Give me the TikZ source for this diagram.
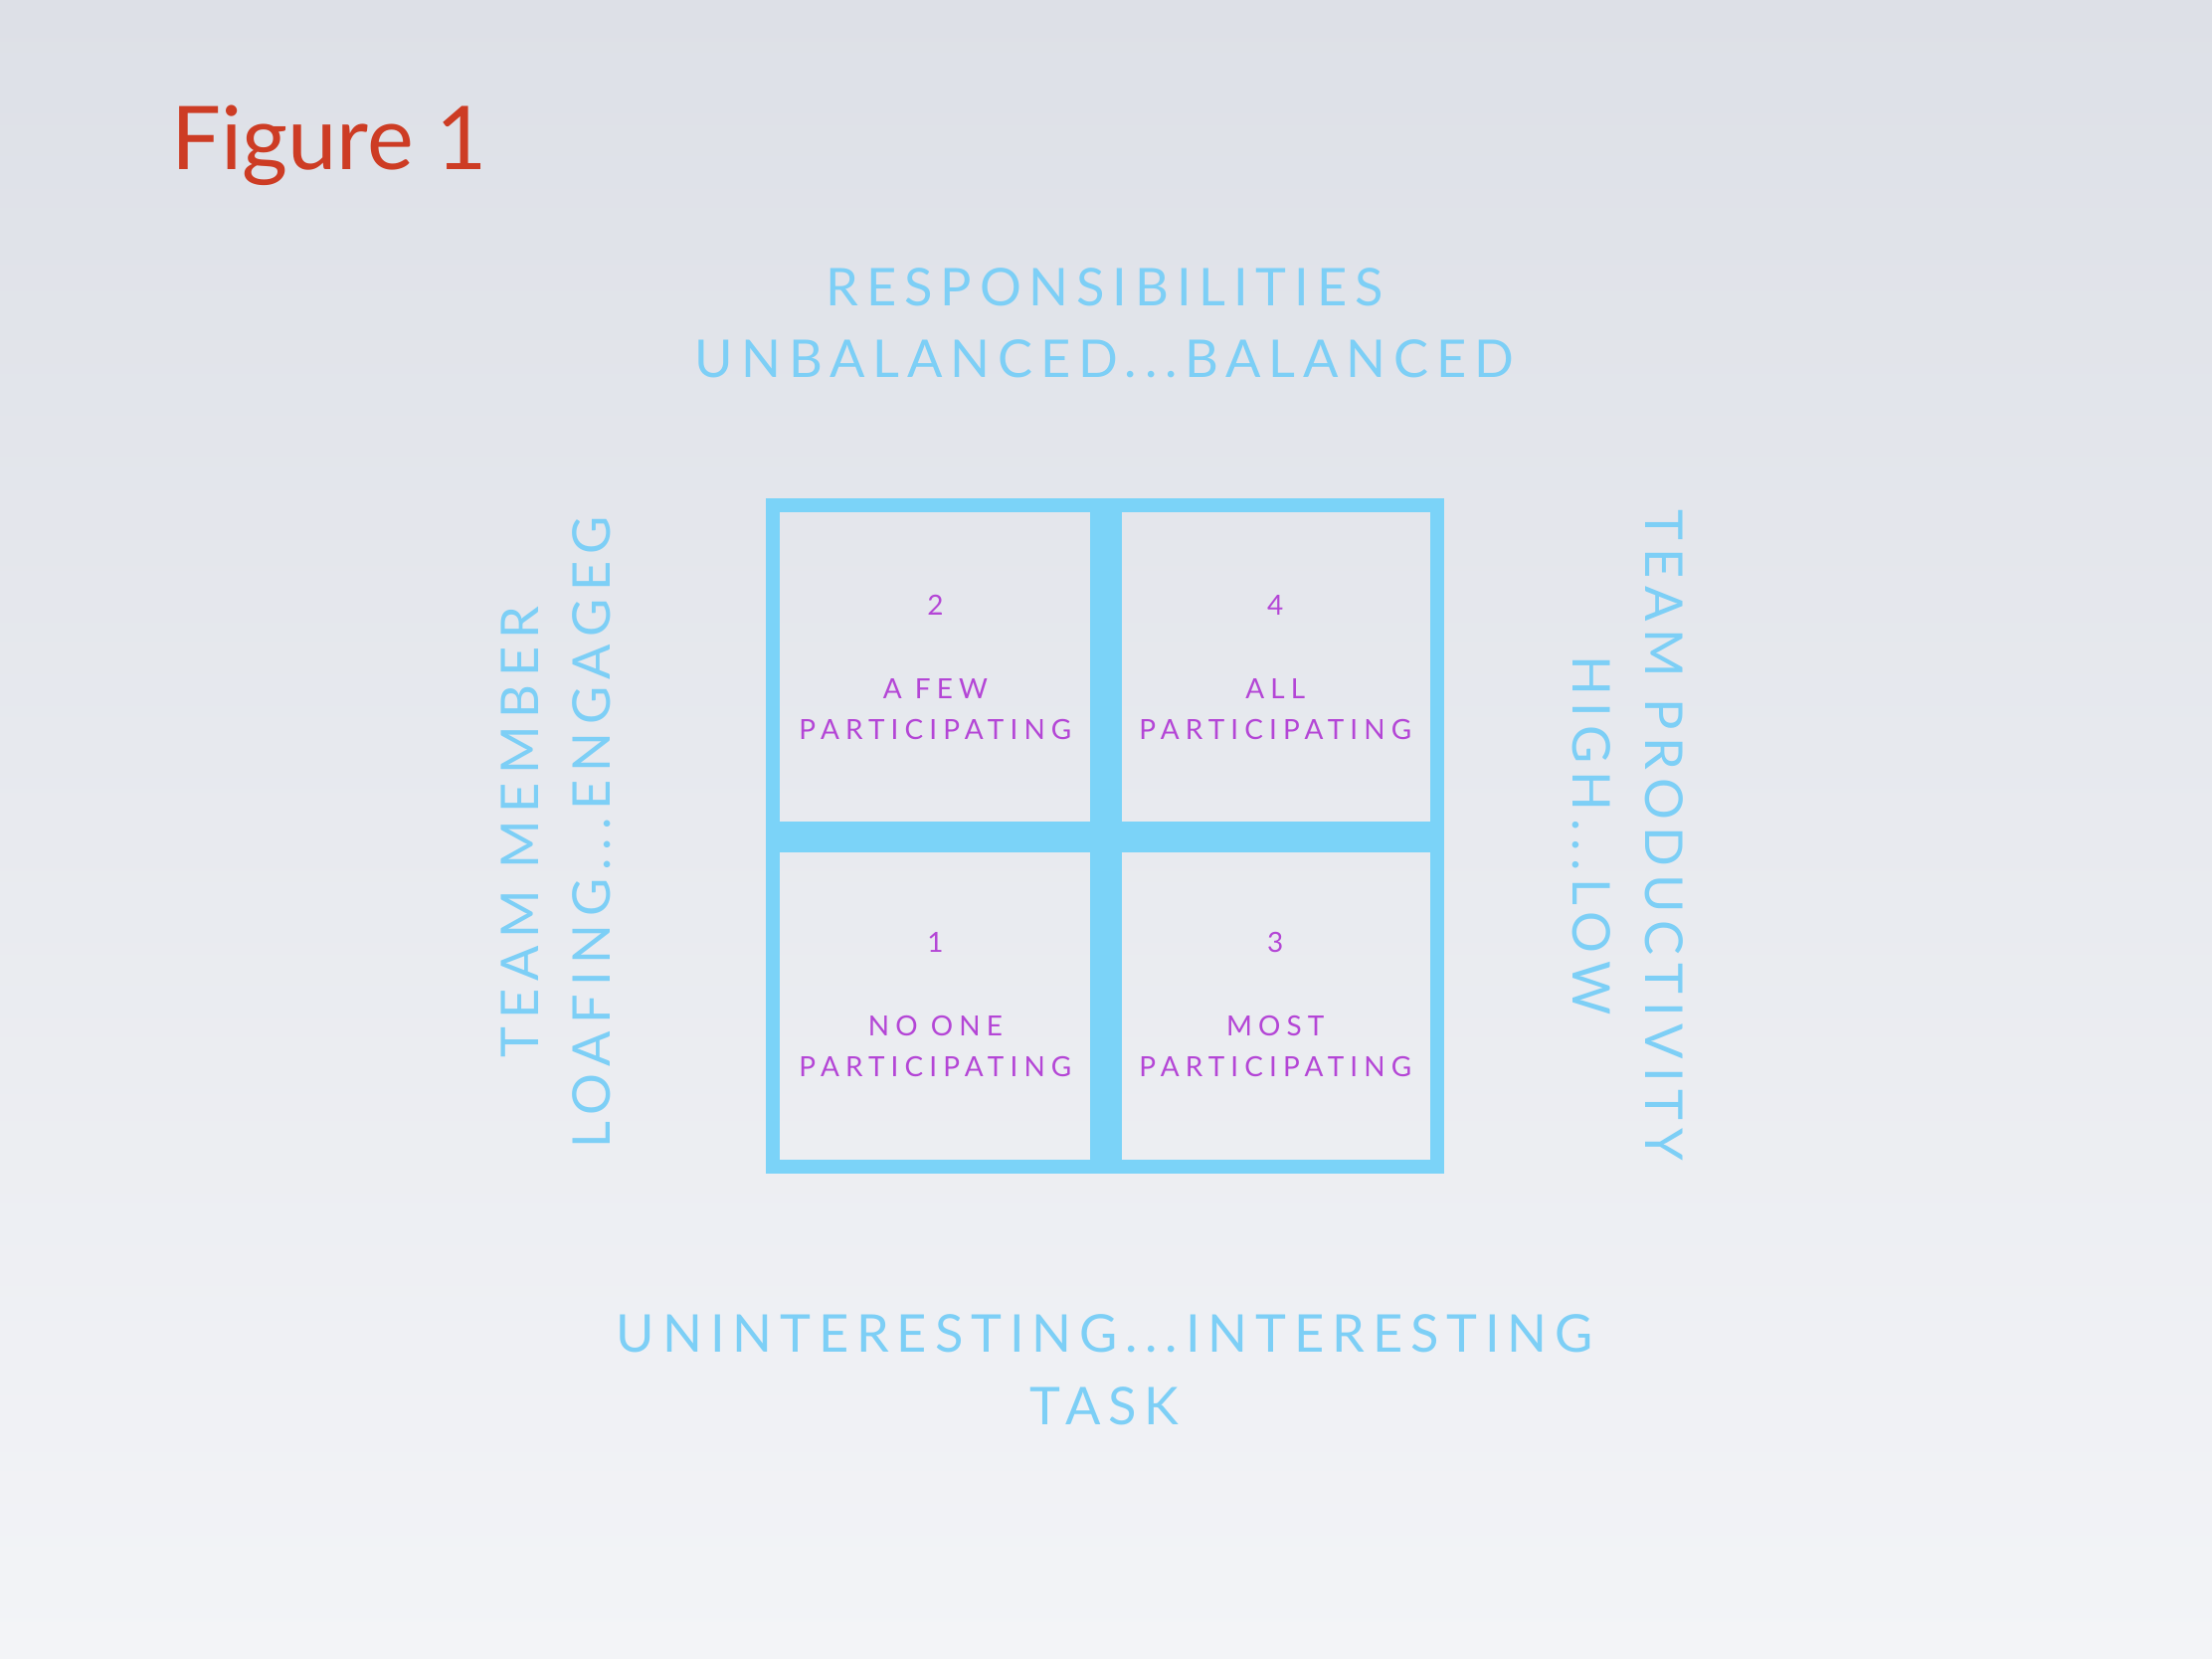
\documentclass[tikz,border=0pt]{standalone}
\usepackage{fontspec}
\setmainfont{Lato}
\newfontfamily\axisfont[LetterSpace=15]{Lato}
\newfontfamily\cellfont[LetterSpace=22]{Lato}
\usetikzlibrary{positioning,calc}

\definecolor{framecol}{RGB}{123,211,248}
\definecolor{axiscol}{RGB}{125,207,246}
\definecolor{cellcol}{RGB}{180,70,214}
\definecolor{titlecol}{RGB}{205,60,36}
\definecolor{bgtop}{RGB}{221,224,231}
\definecolor{bgmid}{RGB}{233,235,239}
\definecolor{bgbottom}{RGB}{243,244,247}

\tikzset{
  axis/.style={text=axiscol, align=center, inner sep=0pt,
    font=\axisfont\fontsize{21}{29}\selectfont},
  cell/.style={text=cellcol, align=center, inner sep=0pt,
    font=\cellfont\fontsize{11.2}{16.5}\selectfont},
  frame/.style={draw=framecol, line width=0.2cm},
  bar/.style={draw=framecol, line width=0.44cm}
}

\begin{document}
\begin{tikzpicture}[x=0.02cm,y=-0.02cm]
    % background
    \shade[top color=bgtop, middle color=bgmid, bottom color=bgbottom] (0,0) rectangle (1568,1176);
    \useasboundingbox (0,0) rectangle (1568,1176);

    \node[anchor=base west, inner sep=0pt, text=titlecol,
      font=\fontsize{35.5}{40}\selectfont] (title) at (121,120) {Figure 1};

    % grid
    \draw[bar] (784,358) -- (784,827);
    \draw[bar] (548,593) -- (1019,593);
    \draw[frame] (548,358) rectangle (1019,827);

    \node[cell] (c2) at (663,473) {2\\[1.55em]A FEW\\PARTICIPATING};
    \node[cell] (c4) at (904,473) {4\\[1.55em]ALL\\PARTICIPATING};
    \node[cell] (c1) at (663,712) {1\\[1.55em]NO ONE\\PARTICIPATING};
    \node[cell] (c3) at (904,712) {3\\[1.55em]MOST\\PARTICIPATING};

    % axis labels
    \node[axis] (top)    at (783,229) {RESPONSIBILITIES\\UNBALANCED...BALANCED};
    \node[axis] (bottom) at (783,971) {UNINTERESTING...INTERESTING\\TASK};
    \node[axis, rotate=90]  (left)  at (394,590) {TEAM MEMBER\\LOAFING...ENGAGEG};
    \node[axis, rotate=-90] (right) at (1154,592) {TEAM PRODUCTIVITY\\HIGH...LOW};
\end{tikzpicture}
\end{document}
